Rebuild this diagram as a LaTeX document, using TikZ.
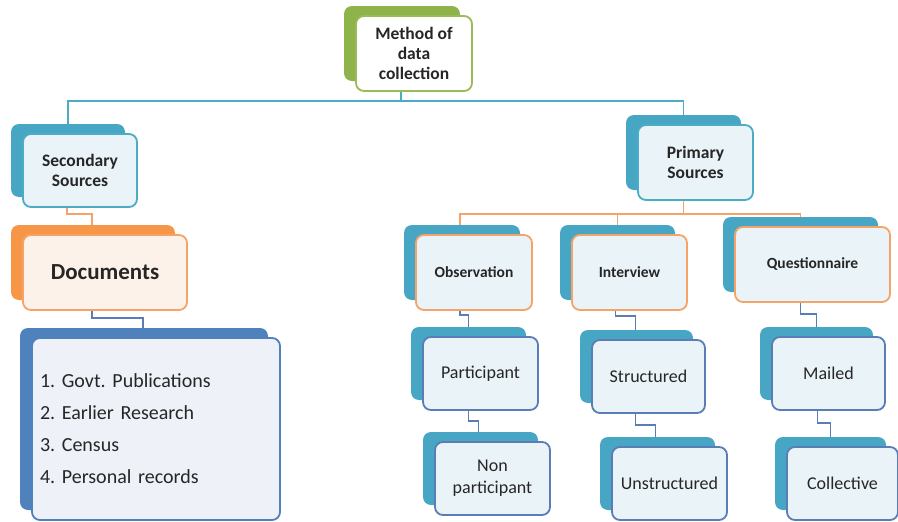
\documentclass[tikz,border=0pt]{standalone}
\usepackage{fontspec}
\setmainfont{Carlito}
\usetikzlibrary{shadows,backgrounds}
\definecolor{teal}{HTML}{4BACC6}
\definecolor{tealback}{HTML}{47A6C3}
\definecolor{orng}{HTML}{F79646}
\definecolor{orngline}{HTML}{F4A468}
\definecolor{grn}{HTML}{8DB34A}
\definecolor{grnline}{HTML}{9BBB59}
\definecolor{blu}{HTML}{4F81BD}
\definecolor{bluline}{HTML}{5A7DB5}
\definecolor{lightfill}{HTML}{EAF3F8}
\definecolor{peach}{HTML}{FDF2EA}
\definecolor{listfill}{HTML}{EEF2F8}
\tikzset{
  box/.style={draw, line width=1.8pt, rounded corners=8pt, align=center, text=black!85,
     inner sep=2pt},
  backc/.style={copy shadow={shadow xshift=-12pt, shadow yshift=10pt, fill=#1, draw=none}},
  topbox/.style={box, draw=grnline, fill=white, backc=grn, font=\bfseries\fontsize{17.5}{20}\selectfont},
  secbox/.style={box, draw=teal, fill=lightfill, backc=tealback, font=\bfseries\fontsize{17.5}{20}\selectfont},
  docbox/.style={box, draw=orngline, fill=peach, backc=orng, font=\bfseries\fontsize{23}{26}\selectfont},
  listbox/.style={box, draw=blu, fill=listfill, backc=blu, font=\fontsize{20}{32}\selectfont, align=left},
  midbox/.style={box, draw=orngline, fill=lightfill, backc=tealback, font=\bfseries\fontsize{15.5}{18}\selectfont},
  lowbox/.style={box, draw=bluline, fill=lightfill, backc=tealback, font=\fontsize{18}{22}\selectfont},
  tcon/.style={draw=teal, line width=1.6pt},
  ocon/.style={draw=orngline, line width=1.6pt},
  bcon/.style={draw=bluline, line width=1.6pt},
}
\frenchspacing
\begin{document}
\begin{tikzpicture}[x=1pt,y=-1pt]
\useasboundingbox (0,0) rectangle (898,522);
% nodes
\node[topbox, minimum width=116pt, minimum height=75pt] (meth) at (414,53.5) {Method of\\data\\collection};
\node[secbox, minimum width=114pt, minimum height=73pt] (sec) at (80,170.5) {Secondary\\Sources};
\node[docbox, minimum width=164pt, minimum height=75pt] (doc) at (105,272.5) {Documents};
\node[listbox, minimum width=248pt, minimum height=182pt, text width=232pt] (lst) at (156,429)
  {\frenchspacing 1. Govt. Publications\\2. Earlier Research\\3. Census\\4. Personal records};
\node[secbox, minimum width=115pt, minimum height=75pt] (prim) at (695.5,162.5) {Primary\\Sources};
\node[midbox, minimum width=116pt, minimum height=75pt] (obs) at (474,272.5) {Observation};
\node[midbox, minimum width=115pt, minimum height=75pt] (int) at (629.5,272.5) {Interview};
\node[midbox, minimum width=155pt, minimum height=75pt] (que) at (812.5,264.5) {Questionnaire};
\node[lowbox, minimum width=115pt, minimum height=73pt] (part) at (480.5,373.5) {Participant};
\node[lowbox, minimum width=115pt, minimum height=73pt] (nonp) at (492.5,478.5) {Non\\participant};
\node[lowbox, minimum width=113pt, minimum height=73pt] (str) at (648.5,376.5) {Structured};
\node[lowbox, minimum width=115pt, minimum height=73pt] (unstr) at (669.5,483.5) {Unstructured};
\node[lowbox, minimum width=113pt, minimum height=73pt] (mail) at (828.5,373.5) {Mailed};
\node[lowbox, minimum width=111pt, minimum height=73pt] (coll) at (842.5,483.5) {Collective};
% connectors
\begin{pgfonlayer}{background}
\draw[tcon] ([xshift=-13pt]meth.south) -- ++(0,9) coordinate (mbus);
\draw[tcon] (mbus) -| ([xshift=-12pt]sec.north);
\draw[tcon] (mbus) -| ([xshift=-12pt]prim.north);
\draw[ocon] ([xshift=-13pt]sec.south) -- ++(0,6) -| ([xshift=-13pt]doc.north);
\draw[bcon] ([xshift=-13pt]doc.south) -- ++(0,7) -| ([xshift=-13pt]lst.north);
\draw[ocon] ([xshift=-12pt]prim.south) -- ++(0,13) coordinate (pbus);
\draw[ocon] (pbus) -| ([xshift=-14pt]obs.north);
\draw[ocon] (pbus) -| ([xshift=-12pt]int.north);
\draw[ocon] (pbus) -| ([xshift=-12pt]que.north);
\draw[bcon] ([xshift=-14pt]obs.south) -- ++(0,4) -| ([xshift=-12pt]part.north);
\draw[bcon] ([xshift=-12pt]part.south) -- ++(0,10) -| ([xshift=-14pt]nonp.north);
\draw[bcon] ([xshift=-14pt]int.south) -- ++(0,5) -| ([xshift=-13pt]str.north);
\draw[bcon] ([xshift=-13pt]str.south) -- ++(0,11) -| ([xshift=-14pt]unstr.north);
\draw[bcon] ([xshift=-12pt]que.south) -- ++(0,11) -| ([xshift=-12pt]mail.north);
\draw[bcon] ([xshift=-11pt]mail.south) -- ++(0,12) -| ([xshift=-12pt]coll.north);
\end{pgfonlayer}
\end{tikzpicture}
\end{document}
